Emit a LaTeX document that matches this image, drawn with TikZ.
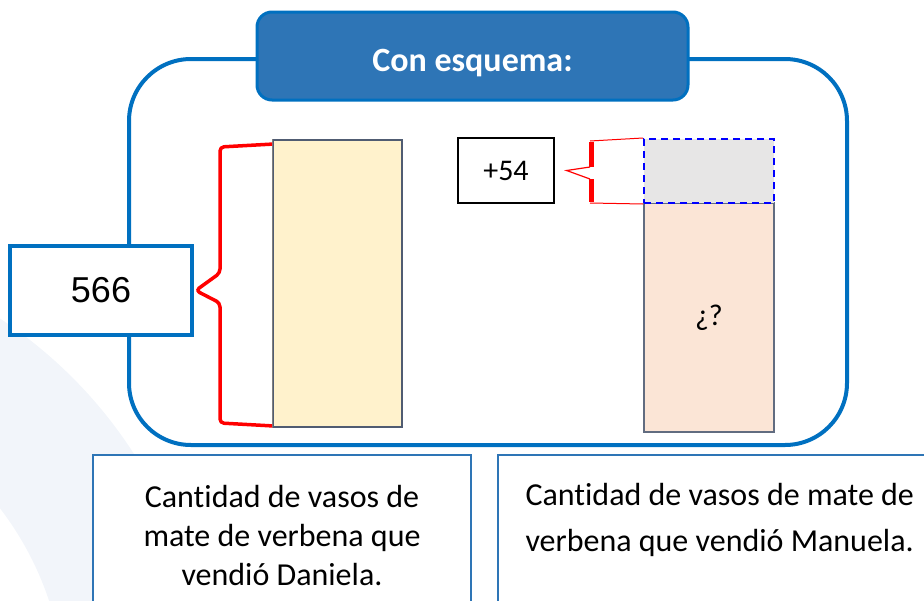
\documentclass[tikz,border=0pt]{standalone}
\usepackage{fontspec}
\setmainfont{Carlito}[Ligatures=NoCommon]
\newfontfamily\arialfont{Liberation Sans}
\usepackage{tikz}
\usetikzlibrary{calc}
\usetikzlibrary{positioning}
\definecolor{frameblue}{HTML}{0070C0}
\definecolor{titleblue}{HTML}{2E75B6}
\definecolor{ringgray}{HTML}{F2F5FA}
\definecolor{barcream}{HTML}{FFF2CC}
\definecolor{barpeach}{HTML}{FBE5D6}
\definecolor{bargray}{HTML}{E7E6E6}
\definecolor{slate}{HTML}{505C72}
\begin{document}
\begin{tikzpicture} [x=1pt, y=-1pt,
                frame/.style = {draw=frameblue, line width=4pt, rounded corners=62pt},
                textbox/.style = {draw=titleblue, line width=2pt, fill=white, inner sep=0pt},
                bar/.style = {fill=#1, draw=slate, line width=1.8pt, inner sep=0pt, minimum width=129pt},
                brace/.style = {draw=red, line width=3.5pt, line join=round},
                big text/.style = {font=\fontsize{32}{39}\selectfont}
            ]
            \useasboundingbox (0,0) rectangle (924,600);
            \begin{scope}
                \clip (0,0) rectangle (924,600);
                \fill[ringgray, even odd rule] (-250,700) circle [radius=456] (-250,700) circle [radius=315];
            \end{scope}
            \draw[frame] (129,59) rectangle (847,445);
            \node (dbox) at (282,540) [textbox, minimum width=378pt, minimum height=170pt] {};
            \node (mbox) at (714,540) [textbox, minimum width=432pt, minimum height=170pt] {};
            \node at (282,536) [big text, align=center] {Cantidad de vasos de\\mate de verbena que\\vendió Daniela.};
            \node at (522,520) [anchor=west, align=left, font=\fontsize{32}{46}\selectfont] {Cantidad de vasos de mate de\\verbena que vendió Manuela.};
            \node (title) at (472.5,56) [draw=frameblue, line width=3pt, fill=titleblue, rounded corners=15pt, minimum width=431pt, minimum height=88pt] {};
            \node at ([yshift=-7pt] title.center) [text=white, font=\bfseries\fontsize{34}{40}\selectfont] {Con esquema:};
            \node (n566) at (101,290.5) [draw=frameblue, line width=3.5pt, fill=white, minimum width=182pt, minimum height=89pt, font=\arialfont\fontsize{36}{40}\selectfont] {566};
            \node (n54) at (506,170.5) [draw, line width=1.2pt, minimum width=96pt, minimum height=65pt, font=\fontsize{30}{34}\selectfont] {+54};
            \node (daniela) at (337.5,283.5) [bar=barcream, minimum height=287pt] {};
            \draw[gray, line width=1.2pt] (daniela.north west) -- (daniela.south west);
            \node (manuela) at (709,317.5) [bar=barpeach, draw=slate!90, minimum width=130pt, minimum height=229pt, font=\fontsize{30}{34}\selectfont] {¿?};
            \node (extra) at (709,171) [fill=bargray, draw=blue, line width=2pt, dash pattern=on 7pt off 5pt, inner sep=0pt, minimum width=130pt, minimum height=64pt] {};
            \draw[brace, rounded corners=4pt] ([yshift=-5pt] daniela.north west) -- (220,147) -- (220,273) -- ([xshift=2pt] n566.east) -- (220,303) -- (220,423) -- ([yshift=2pt] daniela.south west);
            \draw[red, line width=1pt] (extra.north west) -- (590,141) (extra.south west) -- (590,203);
            \draw[brace, line width=5pt, line join=miter] (591,142) -- (591,167);
            \draw[brace, line width=5pt, line join=miter] (591,179) -- (591,202);
            \draw[red, line width=1.2pt] (590,167) -- ([xshift=12pt] n54.east) -- (590,179);
        \end{tikzpicture}
\end{document}
